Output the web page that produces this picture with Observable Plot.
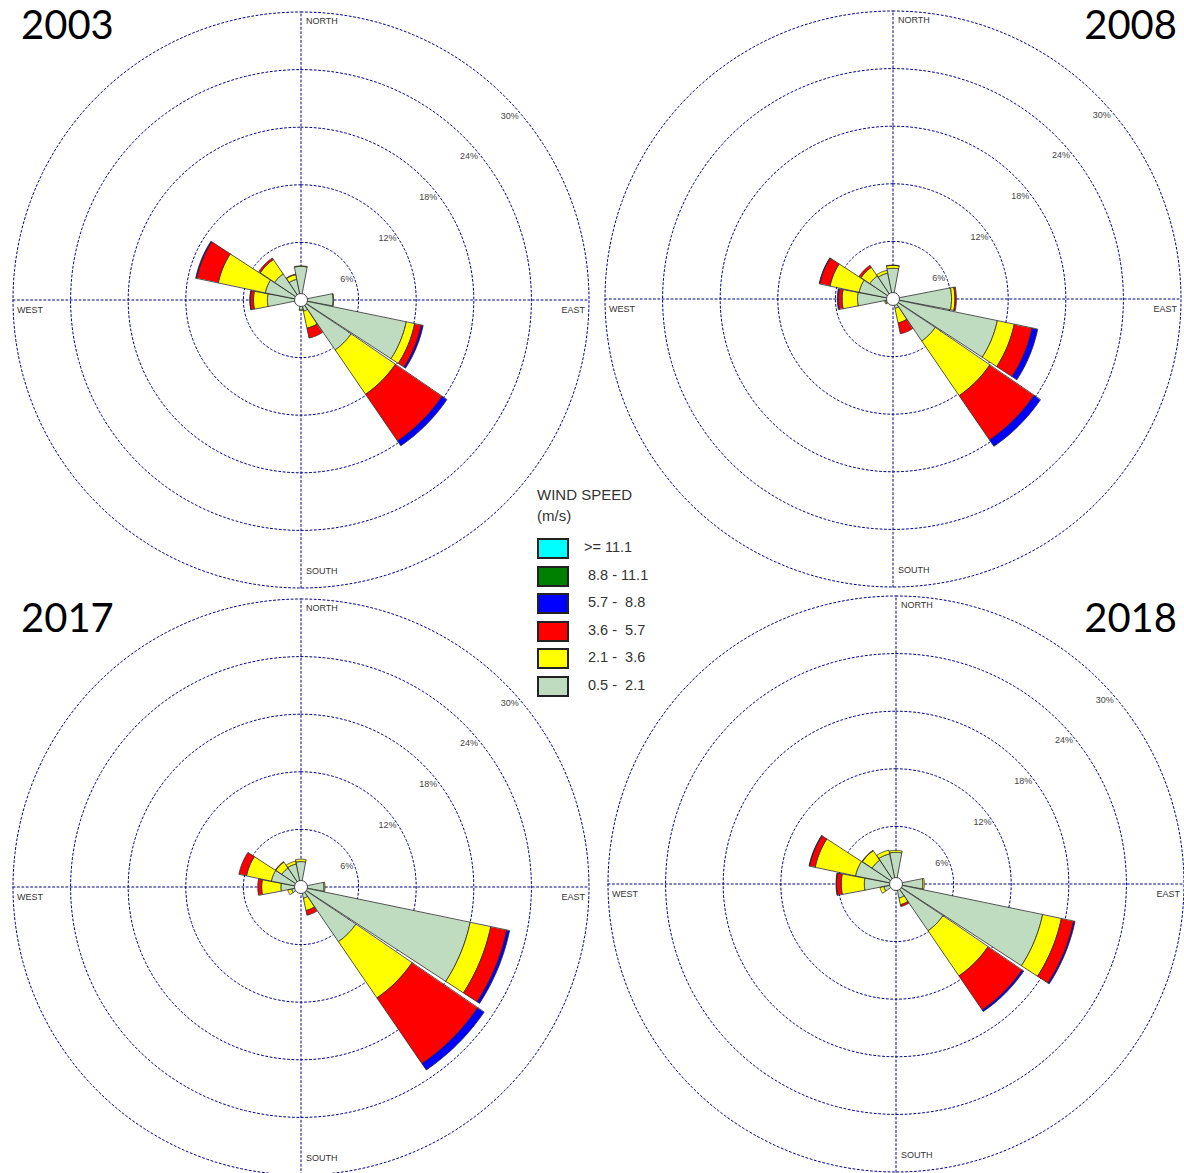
<!DOCTYPE html>
<html>
<head>
<meta charset="utf-8">
<script src="https://cdn.jsdelivr.net/npm/d3@7"></script>
<script src="https://cdn.jsdelivr.net/npm/@observablehq/plot@0.6"></script>
<style>
  body { margin: 0; background: #fff; }
  #page { position: relative; width: 1184px; height: 1173px; overflow: hidden; background: #fff; }
  .rose { position: absolute; }
  .year { position: absolute; font-family: Lato, "Open Sans", sans-serif; font-size: 40px; line-height: 40px; color: #000; }
  #legend { position: absolute; left: 537px; top: 484px; font-family: "Liberation Sans", Arial, sans-serif; color: #333; }
  #legend .title { font-size: 15px; line-height: 21px; }
  #legend .row { position: absolute; left: 0; width: 140px; height: 21px; }
  #legend .sw { position: absolute; left: 0; top: 0; width: 28px; height: 17px; border: 2px solid #222; }
  #legend .lab { position: absolute; left: 47px; top: 1px; font-size: 14.5px; white-space: pre; }
</style>
</head>
<body>
<div id="page"></div>
<script>
// Compass sectors, clockwise from north (direction the wind blows from)
const directions = ["N","NNE","NE","ENE","E","ESE","SE","SSE","S","SSW","SW","WSW","W","WNW","NW","NNW"];

// Speed classes (m/s), innermost band first
const speedClasses = [" 0.5 -  2.1", " 2.1 -  3.6", " 3.6 -  5.7", " 5.7 -  8.8", " 8.8 - 11.1", ">= 11.1"];
const speedColors  = ["#c0dcc0", "#ffff00", "#ff0000", "#0000ff", "#008000", "#00ffff"];

// Frequency rings (%)
const ringTicks = [6, 12, 18, 24, 30];

const years = ["2003", "2008", "2017", "2018"];

// Frequency (%) by sector, N → NNW, one list per speed class
const f2003_05_21 = [3.5, 0.4, 0.3, 0.4, 3.35, 11.2, 6.3, 1.2, 1.0, 0.3, 0.3, 0.5, 3.5, 3.8, 3.3, 2.2];
const f2003_21_36 = [0.05, 0, 0, 0, 0.05, 0.9, 5.6, 1.8, 0.1, 0, 0, 0.1, 1.45, 5.0, 1.8, 0.5];
const f2003_36_57 = [0, 0, 0, 0, 0, 0.7, 5.9, 1.05, 0, 0, 0, 0, 0.35, 2.3, 0.2, 0.05];
const f2003_57_88 = [0, 0, 0, 0, 0, 0.2, 0.6, 0, 0, 0, 0, 0, 0.02, 0.1, 0, 0];
const f2003_88_111 = [0, 0, 0, 0, 0, 0, 0, 0, 0, 0, 0, 0, 0, 0, 0, 0];
const f2003_111 = [0, 0, 0, 0, 0, 0, 0, 0, 0, 0, 0, 0, 0, 0, 0, 0];

const f2008_05_21 = [3.2, 0.4, 0.3, 0.4, 6.1, 11.1, 5.3, 1.0, 0.6, 0.3, 0.3, 0.8, 3.7, 3.6, 2.9, 2.75];
const f2008_21_36 = [0.3, 0, 0, 0, 0.35, 1.8, 6.9, 1.55, 0.05, 0, 0, 0.1, 1.6, 3.1, 1.1, 0.3];
const f2008_36_57 = [0.03, 0, 0, 0, 0.15, 1.9, 5.6, 1.15, 0, 0, 0, 0, 0.4, 1.1, 0.25, 0];
const f2008_57_88 = [0, 0, 0, 0, 0, 0.6, 0.8, 0, 0, 0, 0, 0, 0.1, 0.05, 0, 0];
const f2008_88_111 = [0, 0, 0, 0, 0, 0, 0, 0, 0, 0, 0, 0, 0, 0, 0, 0];
const f2008_111 = [0, 0, 0, 0, 0, 0, 0, 0, 0, 0, 0, 0, 0, 0, 0, 0];

const f2017_05_21 = [2.65, 0.4, 0.3, 0.4, 2.4, 18.0, 6.9, 1.2, 0.6, 0.3, 0.4, 1.0, 2.1, 3.15, 2.4, 2.45];
const f2017_21_36 = [0.25, 0, 0, 0, 0.1, 2.2, 7.1, 1.3, 0, 0, 0, 0.4, 2.0, 2.65, 0.75, 0.3];
const f2017_36_57 = [0, 0, 0, 0, 0, 1.7, 8.3, 0.5, 0, 0, 0, 0, 0.4, 0.8, 0.05, 0];
const f2017_57_88 = [0, 0, 0, 0, 0, 0.3, 0.8, 0, 0, 0, 0, 0, 0, 0, 0, 0];
const f2017_88_111 = [0, 0, 0, 0, 0, 0, 0, 0, 0, 0, 0, 0, 0, 0, 0, 0];
const f2017_111 = [0, 0, 0, 0, 0, 0, 0, 0, 0, 0, 0, 0, 0, 0, 0, 0];

const f2018_05_21 = [3.3, 0.4, 0.3, 0.4, 2.8, 15.6, 5.9, 1.5, 0.7, 0.4, 0.4, 1.3, 3.3, 4.3, 3.0, 3.2];
const f2018_21_36 = [0.2, 0, 0, 0, 0.15, 2.0, 5.7, 0.7, 0, 0, 0, 0.4, 2.4, 4.3, 1.2, 0.4];
const f2018_36_57 = [0, 0, 0, 0, 0, 1.3, 4.3, 0.2, 0, 0, 0, 0, 0.5, 0.6, 0.05, 0];
const f2018_57_88 = [0, 0, 0, 0, 0, 0.15, 0.2, 0, 0, 0, 0, 0, 0.05, 0.05, 0, 0];
const f2018_88_111 = [0, 0, 0, 0, 0, 0, 0, 0, 0, 0, 0, 0, 0, 0, 0, 0];
const f2018_111 = [0, 0, 0, 0, 0, 0, 0, 0, 0, 0, 0, 0, 0, 0, 0, 0];

const bandsByYear = {
  "2003": [f2003_05_21, f2003_21_36, f2003_36_57, f2003_57_88, f2003_88_111, f2003_111],
  "2008": [f2008_05_21, f2008_21_36, f2008_36_57, f2008_57_88, f2008_88_111, f2008_111],
  "2017": [f2017_05_21, f2017_21_36, f2017_36_57, f2017_57_88, f2017_88_111, f2017_111],
  "2018": [f2018_05_21, f2018_21_36, f2018_36_57, f2018_57_88, f2018_88_111, f2018_111]
};

// Panel placement on the page (top-left of each 601×601 rose; centre falls mid-pixel)
const panelLeft = [0, 592, 0, 595];
const panelTop  = [-1, -2, 586, 583];

const SIZE = 601;
const PX_PER_PCT = 9.6;
const HALF = 10.6;                      // half angular width of a petal, degrees
const RMAX = SIZE / 2 / PX_PER_PCT;     // half-extent of each panel, in %
const rad = Math.PI / 180;

function polar(r, az) { return [r * Math.sin(az * rad), r * Math.cos(az * rad)]; }

// Annular sector between r0 and r1 centred on azimuth az
function sector(r0, r1, az, fill) {
  const pts = [];
  const n = 16;
  for (let k = 0; k <= n; k++) pts.push(polar(r1, az - HALF + 2 * HALF * k / n));
  for (let k = n; k >= 0; k--) pts.push(polar(r0, az - HALF + 2 * HALF * k / n));
  pts.push(pts[0]);
  return {type: "Feature", properties: {fill}, geometry: {type: "Polygon", coordinates: [pts]}};
}

function ring(r) {
  const pts = d3.range(0, 361, 1).map(a => polar(r, a));
  return {type: "Feature", properties: {}, geometry: {type: "LineString", coordinates: pts}};
}

const rings = ringTicks.map(ring);
const axes = [
  {type: "Feature", properties: {}, geometry: {type: "LineString", coordinates: [[-30, 0], [30, 0]]}},
  {type: "Feature", properties: {}, geometry: {type: "LineString", coordinates: [[0, -30], [0, 30]]}}
];

const labelFont = "Liberation Sans, Arial, sans-serif";
const gridStyle = {fill: "none", stroke: "#00008b", strokeWidth: 1, strokeDasharray: "2,2.4"};

function compassLabel(text, x, y, anchor, dx, dy) {
  return Plot.text([text], {x: () => x, y: () => y, text: d => d, textAnchor: anchor, dx, dy,
    fontSize: 9, fill: "#333", fontFamily: labelFont});
}

function rose(year) {
  const bands = bandsByYear[year];
  const petals = [];
  directions.forEach((dir, i) => {
    let r = 0;
    bands.forEach((vals, k) => {
      const v = vals[i];
      if (v > 0) petals.push(sector(r, r + v, i * 22.5, speedColors[k]));
      r += v;
    });
  });
  return Plot.plot({
    width: SIZE,
    height: SIZE,
    margin: 0,
    style: "background: transparent; overflow: visible; max-width: none;",
    projection: {type: "reflect-y", domain: {type: "MultiPoint", coordinates: [[-RMAX, -RMAX], [RMAX, RMAX]]}},
    color: {type: "identity"},
    marks: [
      Plot.geo(rings, gridStyle),
      Plot.geo(axes, gridStyle),
      Plot.geo(petals, {fill: d => d.properties.fill, stroke: "#2a2a2a", strokeWidth: 0.8, strokeLinejoin: "round"}),
      Plot.dot([0], {x: () => 0, y: () => 0, r: 6.5, fill: "white", stroke: "#444", strokeWidth: 1}),
      Plot.text(ringTicks, {x: v => v * Math.SQRT1_2, y: v => v * Math.SQRT1_2, text: v => `${v}%`,
        dx: 5, dy: 19.5, fontSize: 9, fill: "#444", fontFamily: labelFont}),
      compassLabel("NORTH", 0, 30, "start", 5, 9.5),
      compassLabel("SOUTH", 0, -30, "start", 5, -17),
      compassLabel("WEST", -30, 0, "start", 4, 10.5),
      compassLabel("EAST", 30, 0, "end", -4, 10.5)
    ]
  });
}

const page = document.getElementById("page");

years.forEach((year, i) => {
  const svg = rose(year);
  svg.classList.add("rose");
  svg.style.left = panelLeft[i] + "px";
  svg.style.top = panelTop[i] + "px";
  page.appendChild(svg);
});

// Year titles
const titleSpots = [
  {left: 21, top: 4}, {right: 7, top: 4}, {left: 21, top: 597}, {right: 7, top: 597}
];
years.forEach((year, i) => {
  const div = document.createElement("div");
  div.className = "year";
  div.textContent = year;
  const s = titleSpots[i];
  if (s.left != null) div.style.left = s.left + "px";
  if (s.right != null) div.style.right = s.right + "px";
  div.style.top = s.top + "px";
  page.appendChild(div);
});

// Legend: fastest class on top
const legend = document.createElement("div");
legend.id = "legend";
legend.innerHTML = `<div class="title">WIND SPEED<br>(m/s)</div>`;
const order = d3.range(speedClasses.length).reverse();
order.forEach((k, j) => {
  const row = document.createElement("div");
  row.className = "row";
  row.style.top = (54 + j * 27.6) + "px";
  row.innerHTML = `<div class="sw" style="background:${speedColors[k]}"></div><div class="lab">${speedClasses[k].replace(">", "&gt;")}</div>`;
  legend.appendChild(row);
});
page.appendChild(legend);
</script>
</body>
</html>
